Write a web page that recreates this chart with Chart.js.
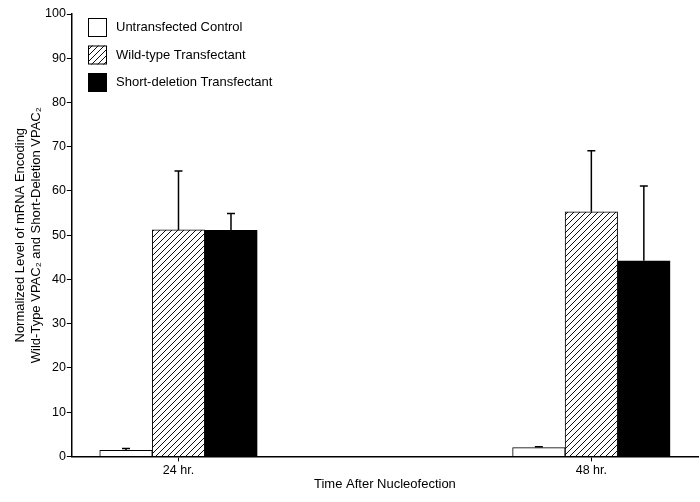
<!DOCTYPE html>
<html>
<head>
<meta charset="utf-8">
<script src="https://cdn.jsdelivr.net/npm/chart.js@4/dist/chart.umd.min.js"></script>
<style>
  html, body { margin: 0; padding: 0; background: #fff; }
  #wrap { width: 700px; height: 502px; }
</style>
</head>
<body>
<div id="wrap"><canvas id="chart" width="700" height="502"></canvas></div>
<script>
const hours = [24, 48];
const tickLabels = ["24 hr.", "48 hr."];
const seriesNames = ["Untransfected Control", "Wild-type Transfectant", "Short-deletion Transfectant"];
const untransfected = [1.4, 2.0];
const untransfectedErr = [0.4, 0.2];
const wildType = [51.2, 55.3];
const wildTypeErr = [13.3, 13.8];
const shortDeletion = [51.1, 44.2];
const shortDeletionErr = [3.8, 16.9];
const yTicks = [0, 10, 20, 30, 40, 50, 60, 70, 80, 90, 100];

const FONT = "'Liberation Sans', Arial, Helvetica, sans-serif";

function hatchPattern() {
  const s = 6;
  const c = document.createElement("canvas");
  c.width = s;
  c.height = s;
  const ctx = c.getContext("2d");
  ctx.fillStyle = "#fff";
  ctx.fillRect(0, 0, s, s);
  ctx.strokeStyle = "#111";
  ctx.lineWidth = 1;
  ctx.beginPath();
  ctx.moveTo(-1, s + 1);
  ctx.lineTo(s + 1, -1);
  ctx.moveTo(-1, 1);
  ctx.lineTo(1, -1);
  ctx.moveTo(s - 1, s + 1);
  ctx.lineTo(s + 1, s - 1);
  ctx.stroke();
  return ctx.createPattern(c, "repeat");
}

const hatch = hatchPattern();
const fills = ["#fff", hatch, "#000"];
const values = [untransfected, wildType, shortDeletion];
const errors = [untransfectedErr, wildTypeErr, shortDeletionErr];

const errorBars = {
  id: "errorBars",
  afterDatasetsDraw(chart) {
    const { ctx } = chart;
    const y = chart.scales.y;
    ctx.save();
    ctx.strokeStyle = "#000";
    ctx.lineWidth = 1.5;
    values.forEach((vals, i) => {
      chart.getDatasetMeta(i).data.forEach((bar, j) => {
        const top = y.getPixelForValue(vals[j] + errors[i][j]);
        ctx.beginPath();
        ctx.moveTo(bar.x, bar.y);
        ctx.lineTo(bar.x, top);
        ctx.moveTo(bar.x - 4, top);
        ctx.lineTo(bar.x + 4, top);
        ctx.stroke();
      });
    });
    ctx.restore();
  },
};

const boxLegend = {
  id: "boxLegend",
  afterDraw(chart) {
    const { ctx } = chart;
    ctx.save();
    ctx.font = "13px " + FONT;
    ctx.textBaseline = "middle";
    seriesNames.forEach((name, i) => {
      const top = 18 + i * 27.5;
      ctx.fillStyle = fills[i];
      ctx.fillRect(88, top, 19, 19);
      ctx.strokeStyle = "#000";
      ctx.lineWidth = 1;
      ctx.strokeRect(88.5, top + 0.5, 18, 18);
      ctx.fillStyle = "#000";
      ctx.fillText(name, 116, top + 9.5);
    });
    ctx.restore();
  },
};

new Chart(document.getElementById("chart"), {
  type: "bar",
  data: {
    datasets: seriesNames.map((name, i) => ({
      label: name,
      data: hours.map((h, j) => ({ x: h, y: values[i][j] })),
      backgroundColor: fills[i],
      borderColor: "#000",
      borderWidth: 1,
      barThickness: 52.5,
    })),
  },
  options: {
    responsive: false,
    animation: false,
    layout: { padding: { top: 14, right: 2, left: 12, bottom: 10 } },
    plugins: {
      legend: { display: false },
      tooltip: { enabled: false },
    },
    scales: {
      x: {
        type: "linear",
        offset: false,
        min: 17.8,
        max: 54.2,
        afterBuildTicks(axis) {
          axis.ticks = hours.map((h) => ({ value: h }));
        },
        ticks: {
          color: "#000",
          font: { family: FONT, size: 12.5 },
          padding: 2,
          maxRotation: 0,
          callback: (value, index) => tickLabels[index],
        },
        grid: { offset: false, drawOnChartArea: false, drawTicks: true, tickLength: 5, color: "#000" },
        border: { color: "#000", width: 1.5 },
        title: {
          display: true,
          text: "Time After Nucleofection",
          color: "#000",
          font: { family: FONT, size: 13 },
          padding: { top: -4, bottom: 0 },
        },
      },
      y: {
        min: 0,
        max: 100,
        afterBuildTicks(axis) {
          axis.ticks = yTicks.map((v) => ({ value: v }));
        },
        ticks: {
          color: "#000",
          font: { family: FONT, size: 12.5 },
          padding: 1,
        },
        grid: { drawOnChartArea: false, drawTicks: true, tickLength: 5, color: "#000" },
        border: { color: "#000", width: 1.5 },
        title: {
          display: true,
          text: ["Normalized Level of mRNA Encoding", "Wild-Type VPAC\u2082 and Short-Deletion VPAC\u2082"],
          color: "#000",
          font: { family: FONT, size: 13, lineHeight: 1.23 },
          padding: { top: 0, bottom: 0 },
        },
      },
    },
  },
  plugins: [errorBars, boxLegend],
});
</script>
</body>
</html>
